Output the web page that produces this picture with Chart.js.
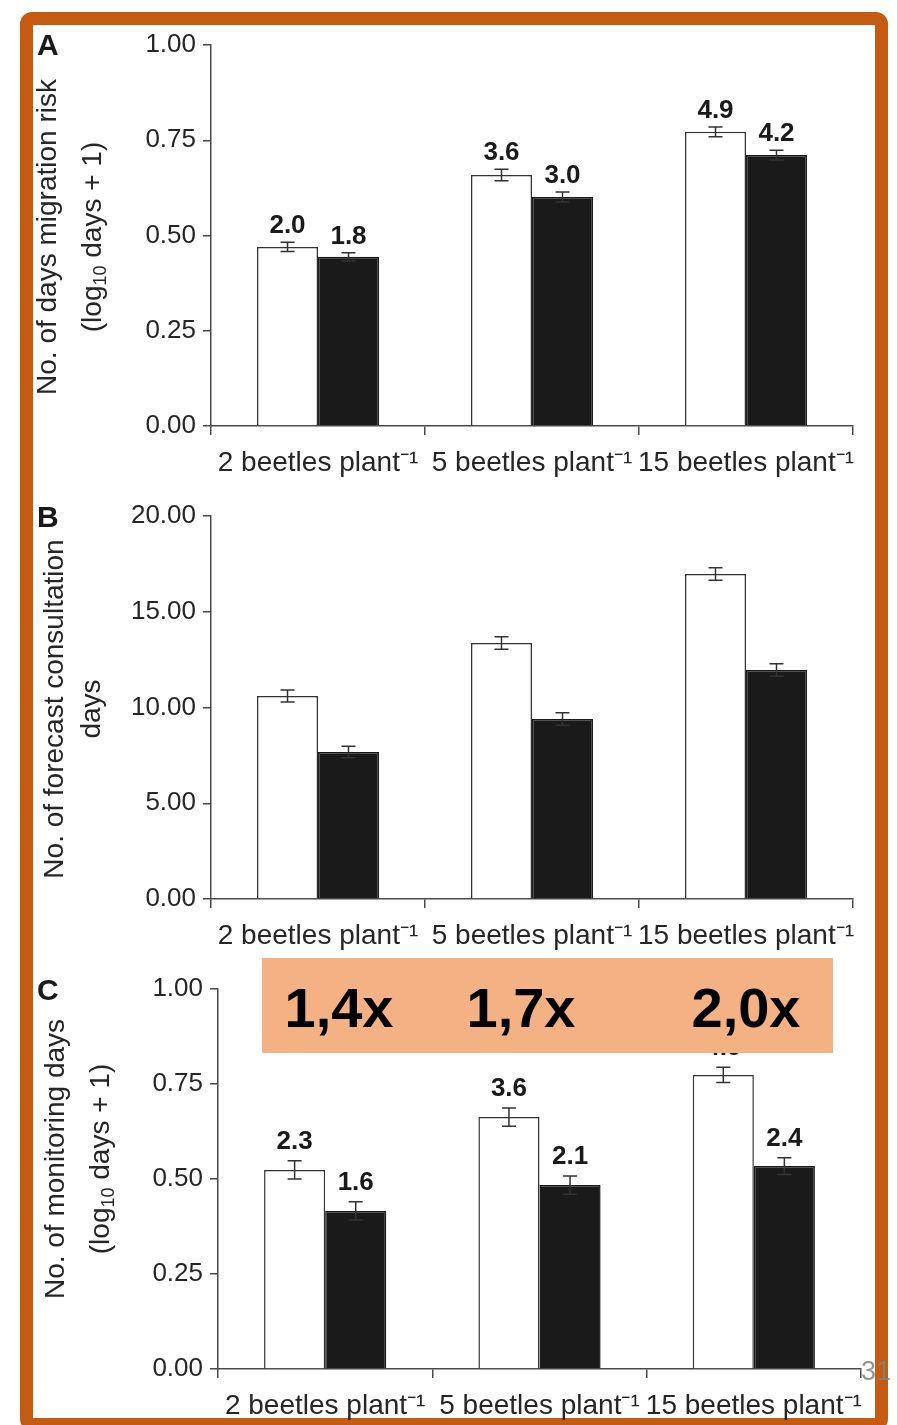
<!DOCTYPE html>
<html><head><meta charset="utf-8">
<script src="https://cdn.jsdelivr.net/npm/chart.js@4.4.1/dist/chart.umd.min.js"></script>
<style>
html,body{margin:0;padding:0;background:#fff;}
body{width:897px;height:1425px;position:relative;overflow:hidden;font-family:"Liberation Sans",Arial,sans-serif;}
#frame{position:absolute;left:20px;top:12px;width:842px;height:1393px;border:13px solid #C55A11;border-radius:12px;background:#fff;}
canvas{position:absolute;left:0;}
#box{position:absolute;left:262px;top:958px;width:571px;height:95px;background:#F4B183;}
#box span{position:absolute;top:22px;transform:translateX(-50%);font-family:"Liberation Sans",sans-serif;font-weight:bold;font-size:56px;line-height:56px;color:#000;white-space:nowrap;}
#page{position:absolute;left:861px;top:1356px;font-size:27px;color:rgba(130,130,130,0.85);}
</style></head>
<body>
<div id="frame"></div>
<canvas id="cA" width="897" height="490" style="top:0px"></canvas>
<canvas id="cB" width="897" height="493" style="top:470px"></canvas>
<canvas id="cC" width="897" height="493" style="top:940px"></canvas>
<div id="box"></div>
<div id="page">31</div>
<script>
// ---- data ----
const categories = ['2 beetles plant\u207B\u00B9', '5 beetles plant\u207B\u00B9', '15 beetles plant\u207B\u00B9'];
// Panel A: migration risk days (log10 days + 1)
const migrationOpen = [0.470, 0.659, 0.772];
const migrationFilled = [0.444, 0.601, 0.711];
const migrationOpenErr = [0.012, 0.015, 0.013];
const migrationFilledErr = [0.011, 0.013, 0.013];
const migrationOpenLabels = ['2.0', '3.6', '4.9'];
const migrationFilledLabels = ['1.8', '3.0', '4.2'];
// Panel B: forecast consultation days
const forecastOpen = [10.60, 13.37, 16.97];
const forecastFilled = [7.68, 9.40, 11.96];
const forecastOpenErr = [0.31, 0.33, 0.33];
const forecastFilledErr = [0.30, 0.33, 0.33];
// Panel C: monitoring days (log10 days + 1)
const monitoringOpen = [0.524, 0.663, 0.774];
const monitoringFilled = [0.416, 0.484, 0.534];
const monitoringOpenErr = [0.024, 0.024, 0.020];
const monitoringFilledErr = [0.024, 0.024, 0.022];
const monitoringOpenLabels = ['2.3', '3.6', '4.9'];
const monitoringFilledLabels = ['1.6', '2.1', '2.4'];
// ratio annotation
const ratioLabels = ['1,4x', '1,7x', '2,0x'];
const ratioPositions = [77, 259, 484];

// ---- annotation box ----
const box = document.getElementById('box');
ratioLabels.forEach((t, i) => {
  const s = document.createElement('span');
  s.textContent = t; s.style.left = ratioPositions[i] + 'px';
  box.appendChild(s);
});

const FONT = '"Liberation Sans", Arial, sans-serif';
const TXT = '#262626';
const AX = '#4a4a4a';

const errorBars = {
  id: 'errorBars',
  afterDatasetsDraw(chart) {
    const ctx = chart.ctx, y = chart.scales.y;
    const gap = chart.options.plugins.errorBars.gap || 10;
    chart.data.datasets.forEach((ds, i) => {
      const meta = chart.getDatasetMeta(i);
      meta.data.forEach((bar, j) => {
        const v = ds.data[j], e = ds.errors[j];
        const yt = y.getPixelForValue(v + e), yb = y.getPixelForValue(v - e);
        ctx.save();
        ctx.strokeStyle = ds.errColor; ctx.lineWidth = 1.5;
        ctx.beginPath();
        ctx.moveTo(bar.x, yt); ctx.lineTo(bar.x, yb);
        ctx.moveTo(bar.x - 7, yt); ctx.lineTo(bar.x + 7, yt);
        ctx.moveTo(bar.x - 7, yb); ctx.lineTo(bar.x + 7, yb);
        ctx.stroke();
        if (ds.valueLabels) {
          ctx.fillStyle = '#1a1a1a';
          ctx.font = 'bold 26px ' + FONT;
          ctx.textAlign = 'center'; ctx.textBaseline = 'alphabetic';
          ctx.fillText(ds.valueLabels[j], bar.x, yt - gap);
        }
        ctx.restore();
      });
    });
  }
};

const yTitle = {
  id: 'yTitle',
  afterDraw(chart) {
    const o = chart.options.plugins.yTitle;
    const ctx = chart.ctx;
    ctx.save();
    ctx.fillStyle = TXT;
    o.lines.forEach((segs, li) => {
      ctx.save();
      ctx.translate(o.x[li], o.cy);
      ctx.rotate(-Math.PI / 2);
      ctx.textBaseline = 'middle'; ctx.textAlign = 'left';
      let w = 0;
      segs.forEach(s => { ctx.font = (s.sub ? '18px ' : '28px ') + FONT; w += ctx.measureText(s.t).width; });
      let x = -w / 2;
      segs.forEach(s => {
        ctx.font = (s.sub ? '18px ' : '28px ') + FONT;
        ctx.fillText(s.t, x, s.sub ? 8 : 0);
        x += ctx.measureText(s.t).width;
      });
      ctx.restore();
    });
    ctx.font = 'bold 30px ' + FONT;
    ctx.fillStyle = '#1a1a1a';
    ctx.textAlign = 'left'; ctx.textBaseline = 'alphabetic';
    ctx.fillText(o.letter, o.lx, o.ly);
    ctx.restore();
  }
};

function makePanel(id, cfg) {
  const datasets = [
    { data: cfg.open, errors: cfg.openErr, valueLabels: cfg.openLabels, backgroundColor: '#ffffff', borderColor: '#333333', borderWidth: 1.5, errColor: '#333333', categoryPercentage: 0.57, barPercentage: 1.0 },
    { data: cfg.filled, errors: cfg.filledErr, valueLabels: cfg.filledLabels, backgroundColor: '#1a1a1a', borderColor: '#1a1a1a', borderWidth: 1.5, errColor: '#333333', categoryPercentage: 0.57, barPercentage: 1.0 }
  ];
  return new Chart(document.getElementById(id), {
    type: 'bar',
    data: { labels: categories, datasets },
    options: {
      responsive: false, animation: false, devicePixelRatio: 1,
      layout: { padding: { top: cfg.padTop, right: cfg.padRight, bottom: 0, left: 0 } },
      plugins: {
        legend: { display: false }, tooltip: { enabled: false },
        errorBars: { gap: cfg.gap },
        yTitle: cfg.title
      },
      scales: {
        x: {
          offset: true,
          grid: { offset: true, drawOnChartArea: false, drawTicks: true, tickLength: 9, color: AX, lineWidth: 1.5 },
          border: { display: true, color: AX, width: 1.5 },
          ticks: { font: { family: FONT, size: 28 }, color: TXT, padding: 11, maxRotation: 0, autoSkip: false },
          afterFit(s) { s.height = 64; }
        },
        y: {
          min: 0, max: cfg.max,
          ticks: { stepSize: cfg.step, font: { family: FONT, size: 26 }, color: TXT, padding: 7, callback: v => Number(v).toFixed(2) },
          grid: { drawOnChartArea: false, tickLength: 8, color: AX, lineWidth: 1.5 },
          border: { display: true, color: AX, width: 1.5 },
          afterFit(s) { s.width = cfg.yWidth; }
        }
      }
    },
    plugins: [errorBars, yTitle]
  });
}

const logTitle2 = [{ t: '(log' }, { t: '10', sub: true }, { t: ' days + 1)' }];

makePanel('cA', {
  open: migrationOpen, filled: migrationFilled, openErr: migrationOpenErr, filledErr: migrationFilledErr,
  openLabels: migrationOpenLabels, filledLabels: migrationFilledLabels,
  max: 1, step: 0.25, padTop: 45, padRight: 44, yWidth: 211, gap: 9,
  title: { lines: [[{ t: 'No. of days migration risk' }], logTitle2], x: [48, 93], cy: 237, letter: 'A', lx: 37, ly: 55 }
});
makePanel('cB', {
  open: forecastOpen, filled: forecastFilled, openErr: forecastOpenErr, filledErr: forecastFilledErr,
  openLabels: null, filledLabels: null,
  max: 20, step: 5, padTop: 46, padRight: 44, yWidth: 211, gap: 9,
  title: { lines: [[{ t: 'No. of forecast consultation' }], [{ t: 'days' }]], x: [55, 92], cy: 239, letter: 'B', lx: 37, ly: 57 }
});
makePanel('cC', {
  open: monitoringOpen, filled: monitoringFilled, openErr: monitoringOpenErr, filledErr: monitoringFilledErr,
  openLabels: monitoringOpenLabels, filledLabels: monitoringFilledLabels,
  max: 1, step: 0.25, padTop: 49, padRight: 36, yWidth: 218, gap: 12,
  title: { lines: [[{ t: 'No. of monitoring days' }], logTitle2], x: [56, 101], cy: 219, letter: 'C', lx: 37, ly: 60 }
});
</script>
</body></html>
